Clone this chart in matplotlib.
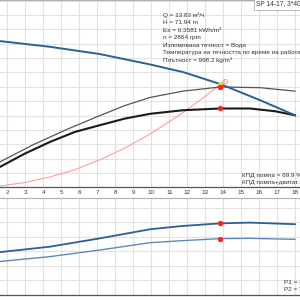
# coding=utf-8
import matplotlib
matplotlib.use('Agg')
import matplotlib.pyplot as plt

matplotlib.rcParams['font.family'] = ['Liberation Sans', 'DejaVu Sans']

# flow, m3/h
q_h = [1.5, 4.37, 7.15, 9.93, 11.76, 13.83, 16.04, 17.98]
head = [102.0, 97.9, 92.8, 85.6, 80.3, 71.94, 60.7, 50.2]

q_eta = [1.59, 3.43, 5.32, 7.15, 8.54, 9.93, 11.76, 13.83, 16.04, 17.98]
eta_pump = [17.7, 29.6, 40.4, 50.0, 57.0, 62.6, 67.0, 69.9, 69.4, 67.0]

q_eta2 = [1.59, 2.98, 4.37, 5.76, 7.15, 8.54, 9.93, 11.76, 13.83, 15.48, 16.87, 17.98]
eta_total = [14.2, 23.5, 31.6, 38.6, 43.3, 47.9, 51.2, 53.7, 54.9, 54.9, 53.0, 50.2]

q_sys = [0.0, 1.59, 2.98, 4.37, 5.76, 7.15, 8.54, 9.93, 11.4, 12.71, 14.07]
h_sys = [0.0, 0.9, 3.3, 7.2, 12.3, 19.2, 27.4, 37.1, 48.9, 60.7, 74.0]

q_p = [1.5, 4.37, 7.15, 9.93, 11.76, 13.83, 15.48, 17.98]
p1 = [2.93, 3.32, 3.90, 4.53, 4.76, 4.94, 4.99, 4.88]
p2 = [2.28, 2.63, 3.09, 3.60, 3.74, 3.88, 3.90, 3.83]

q_duty = 13.83
h_duty = 71.94
eta_duty = 69.9
eta2_duty = 54.9
p1_duty = 4.94
p2_duty = 3.88

xticks = list(range(2, 19))
xlabels = [str(v) for v in xticks]

info = ["Q = 13.83 м³/ч",
        "H = 71.94 m",
        "Es = 0.3581 kWh/m³",
        "n = 2864 rpm",
        "Изпомпвана течност = Вода",
        "Температура на течността по време на работа = 20 °C",
        "Плътност = 998.2 kg/m³"]

grid_c = '#e2e2e2'
blue = '#2b5f9c'
txt_c = '#333333'

fig = plt.figure(figsize=(3, 3), dpi=100)
ax = fig.add_axes([0, 0.3757, 1, 0.6243])
ax2 = fig.add_axes([0, 0.0183, 1, 0.3217])

for a in (ax, ax2):
    a.set_xlim(1.594, 18.26)
    a.set_xticks(xticks)
    a.grid(True, color=grid_c, linewidth=0.8)
    a.set_axisbelow(True)
    for s in ('left', 'right'):
        a.spines[s].set_visible(False)
    a.spines['top'].set_color('#b0b0b0')
    a.spines['top'].set_linewidth(0.8)
    a.spines['bottom'].set_color('#555555')
    a.spines['bottom'].set_linewidth(0.9)
    a.tick_params(axis='both', length=0)
    a.set_yticklabels([])

ax.set_ylim(0, 130.5)
ax.set_yticks(range(10, 131, 10))
ax.set_xticklabels(xlabels)
ax.tick_params(axis='x', labelsize=4.5, pad=1.8, labelcolor=txt_c)

ax2.set_ylim(0, 6.7)
ax2.set_yticks(range(1, 7))
ax2.set_xticklabels([])

ax.plot(q_sys, h_sys, color='#ff9d9d', linewidth=0.8)
ax.plot(q_eta, eta_pump, color='#555555', linewidth=0.9)
ax.plot(q_eta2, eta_total, color='#1a1a1a', linewidth=1.5)
ax.plot(q_h, head, color=blue, linewidth=1.4)

ax.plot(q_sys[-1], h_sys[-1], 'o', ms=3, mfc='none', mec='#ff9d9d', mew=0.7)
ax.plot(q_duty, h_duty, 'o', ms=3.2, color='#ffe000', mec='#e0b000', mew=0.3)
ax.plot(q_duty, eta_duty, 'o', ms=2.8, color='#ff2020')
ax.plot(q_duty, eta2_duty, 'o', ms=2.8, color='#ff2020')

ax2.plot(q_p, p1, color=blue, linewidth=1.3)
ax2.plot(q_p, p2, color='#6088b8', linewidth=1.0)
ax2.plot(q_duty, p1_duty, 'o', ms=2.8, color='#ff2020')
ax2.plot(q_duty, p2_duty, 'o', ms=2.8, color='#ff2020')

# text, positions in pixels of the 300x300 picture
def px(x, y):
    return x / 300.0, 1 - y / 300.0

for i, line in enumerate(info):
    fig.text(*px(163, 15 + 7.5 * i), line, fontsize=4.6, color=txt_c, va='center')

fig.text(*px(256, 4), "SP 14-17, 3*400 V", fontsize=4.8, color=txt_c, va='center',
         bbox=dict(boxstyle='square,pad=0.35', fc='white', ec='#b0b0b0', lw=0.6))

fig.text(*px(242, 175), "КПД помпа = 69.9 %", fontsize=4.6, color=txt_c, va='center')
fig.text(*px(242, 182.5), "КПД помпа+двигат. = 54.9 %", fontsize=4.6, color=txt_c, va='center')
fig.text(*px(284, 282), "P1 = 4.94 kW", fontsize=4.6, color=txt_c, va='center')
fig.text(*px(284, 289.5), "P2 = 3.88 kW", fontsize=4.6, color=txt_c, va='center')

plt.savefig('out.png', dpi=100)
